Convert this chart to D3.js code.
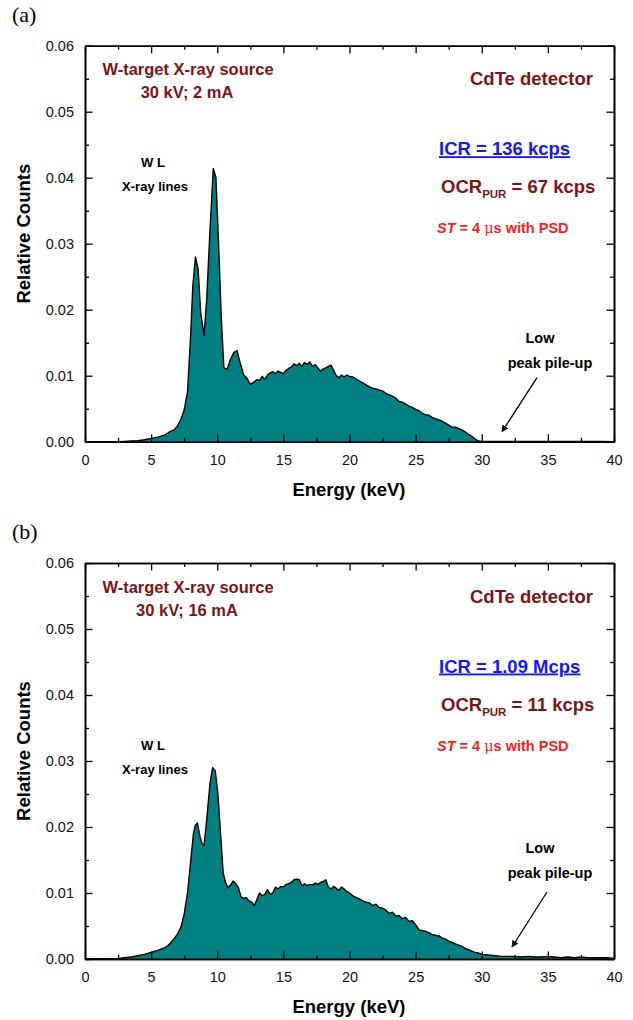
<!DOCTYPE html>
<html>
<head>
<meta charset="utf-8">
<script src="https://cdn.jsdelivr.net/npm/d3@7"></script>
<style>
  body { margin: 0; background: #fff; }
  svg text { font-family: "Liberation Sans", Arial, sans-serif; }
</style>
</head>
<body>
<div id="chart"></div>
<script>
/**** DATA *****/
// panel (a): 30 kV, 2 mA
const energyA = [0, 2.5, 3, 3.5, 4, 4.5, 5, 5.5, 6, 6.25, 6.5, 6.75, 7, 7.25, 7.5, 7.75, 8, 8.15, 8.35, 8.55, 8.75, 9, 9.2, 9.45, 9.7, 9.9, 10.1, 10.3, 10.5, 10.75, 11, 11.25, 11.5, 11.75, 12, 12.25, 12.5, 12.75, 13, 13.2, 13.4, 13.6, 13.8, 14, 14.2, 14.4, 14.6, 14.8, 15, 15.2, 15.4, 15.6, 15.8, 16, 16.2, 16.4, 16.6, 16.8, 17, 17.2, 17.4, 17.6, 17.8, 18, 18.2, 18.4, 18.6, 18.8, 19, 19.2, 19.4, 19.6, 19.8, 20, 20.25, 20.5, 20.75, 21, 21.25, 21.5, 21.75, 22, 22.25, 22.5, 22.75, 23, 23.25, 23.5, 23.75, 24, 24.25, 24.5, 24.75, 25, 25.25, 25.5, 25.75, 26, 26.25, 26.5, 26.75, 27, 27.25, 27.5, 27.75, 28, 28.25, 28.5, 28.75, 29, 29.25, 29.5, 29.75, 30, 31, 32, 33, 34, 35, 36, 37, 38, 39, 40];
const countsA = [0, 0, 0.00005, 0.0001, 0.00015, 0.0003, 0.0005, 0.0007, 0.001, 0.0013, 0.0016, 0.0018, 0.0024, 0.0034, 0.0048, 0.0075, 0.0165, 0.0235, 0.028, 0.0262, 0.0195, 0.0161, 0.0215, 0.032, 0.0414, 0.04, 0.03, 0.019, 0.0112, 0.011, 0.0125, 0.0135, 0.0138, 0.0118, 0.0101, 0.0096, 0.0087, 0.009, 0.0094, 0.0093, 0.0099, 0.0094, 0.0101, 0.0104, 0.0106, 0.0103, 0.0107, 0.0105, 0.0103, 0.0108, 0.0111, 0.0113, 0.0118, 0.0115, 0.0119, 0.0114, 0.012, 0.0117, 0.0121, 0.0114, 0.0117, 0.0112, 0.0107, 0.011, 0.0112, 0.0114, 0.0116, 0.0108, 0.01, 0.0097, 0.0101, 0.0098, 0.0101, 0.0099, 0.0098, 0.0095, 0.0092, 0.0089, 0.0086, 0.0083, 0.0081, 0.008, 0.0078, 0.0077, 0.0073, 0.0071, 0.0069, 0.0066, 0.0061, 0.006, 0.0057, 0.0054, 0.0052, 0.0049, 0.0047, 0.0043, 0.0041, 0.004, 0.0037, 0.0035, 0.0033, 0.0031, 0.0028, 0.0025, 0.0022, 0.0022, 0.002, 0.0018, 0.0015, 0.0011, 0.0008, 0.0004, 0.0001, 0.00003, 0.00003, 0.00005, 0.00002, 0.00004, 0.00003, 0.00002, 0.00003, 0.00002, 0.00002, 0.00001];

// panel (b): 30 kV, 16 mA
const energyB = [0, 2.5, 3, 3.5, 4, 4.5, 5, 5.5, 6, 6.25, 6.5, 6.75, 7, 7.25, 7.5, 7.75, 8, 8.2, 8.35, 8.5, 8.7, 8.85, 9, 9.2, 9.45, 9.65, 9.85, 10.05, 10.25, 10.45, 10.6, 10.8, 11, 11.2, 11.4, 11.6, 11.8, 12, 12.2, 12.4, 12.6, 12.8, 13, 13.2, 13.4, 13.6, 13.8, 14, 14.2, 14.4, 14.6, 14.8, 15, 15.2, 15.4, 15.6, 15.8, 16, 16.2, 16.4, 16.6, 16.8, 17, 17.2, 17.4, 17.6, 17.8, 18, 18.2, 18.4, 18.6, 18.8, 19, 19.2, 19.4, 19.6, 19.8, 20, 20.25, 20.5, 20.75, 21, 21.25, 21.5, 21.75, 22, 22.25, 22.5, 22.75, 23, 23.25, 23.5, 23.75, 24, 24.25, 24.5, 24.75, 25, 25.25, 25.5, 25.75, 26, 26.25, 26.5, 26.75, 27, 27.25, 27.5, 27.75, 28, 28.25, 28.5, 28.75, 29, 29.25, 29.5, 29.75, 30, 30.5, 31, 31.5, 32, 32.5, 33, 33.5, 34, 34.5, 35, 35.5, 36, 36.5, 37, 37.5, 38, 38.5, 39, 39.5, 40];
const countsB = [0, 0.0001, 0.0002, 0.0003, 0.0005, 0.0007, 0.001, 0.0013, 0.0017, 0.002, 0.0025, 0.0031, 0.0038, 0.0048, 0.0068, 0.01, 0.015, 0.019, 0.0203, 0.0206, 0.0185, 0.0175, 0.0172, 0.021, 0.0266, 0.029, 0.0285, 0.025, 0.019, 0.013, 0.0118, 0.0108, 0.0112, 0.0118, 0.0114, 0.0108, 0.0094, 0.0092, 0.0093, 0.0088, 0.0086, 0.0081, 0.009, 0.01, 0.0096, 0.0098, 0.0105, 0.0098, 0.01, 0.0109, 0.0106, 0.011, 0.0109, 0.0113, 0.0114, 0.0116, 0.012, 0.0121, 0.012, 0.0111, 0.0114, 0.0111, 0.0113, 0.0112, 0.0115, 0.0113, 0.0116, 0.0117, 0.012, 0.0109, 0.0106, 0.011, 0.0107, 0.0104, 0.0109, 0.0106, 0.0102, 0.01, 0.0096, 0.0093, 0.0091, 0.0088, 0.0086, 0.0085, 0.0081, 0.0083, 0.0078, 0.0077, 0.0074, 0.0069, 0.0071, 0.0065, 0.0066, 0.0061, 0.0063, 0.0057, 0.0058, 0.0052, 0.0044, 0.0043, 0.0042, 0.004, 0.0037, 0.0036, 0.0035, 0.0032, 0.003, 0.0027, 0.0025, 0.0023, 0.0021, 0.0019, 0.0016, 0.0014, 0.0012, 0.001, 0.0009, 0.0007, 0.0006, 0.0005, 0.0004, 0.0004, 0.0004, 0.0003, 0.0004, 0.0003, 0.0003, 0.0004, 0.0003, 0.0002, 0.0003, 0.0002, 0.0003, 0.0002, 0.0002, 0.0002, 0.0002, 0.0001];

const xMajor = [0, 5, 10, 15, 20, 25, 30, 35, 40];
const xMinor = [2.5, 7.5, 12.5, 17.5, 22.5, 27.5, 32.5, 37.5];
const yMajor = [0, 0.01, 0.02, 0.03, 0.04, 0.05, 0.06];
const yMinor = [0.005, 0.015, 0.025, 0.035, 0.045, 0.055];

const panels = [
	{ tag: '(a)', top: 45.7, energy: energyA, counts: countsA,
	  current: '30 kV; 2 mA', icr: 'ICR = 136 kcps', ocr: ' = 67 kcps',
	  wl: 121.5, low: 297.5, arrow: [[452, 332], [417, 386]] },
	{ tag: '(b)', top: 563, energy: energyB, counts: countsB,
	  current: '30 kV; 16 mA', icr: 'ICR = 1.09 Mcps', ocr: ' = 11 kcps',
	  wl: 187, low: 290, arrow: [[462, 329], [427, 384]] }
];

/**** LAYOUT *****/
const W = 633, H = 1020;
const left = 85, plotW = 529, plotH = 396;
const darkRed = '#7d1414';

const svg = d3.select('#chart').append('svg')
	.attr('width', W).attr('height', H)
	.attr('viewBox', [0, 0, W, H]);

svg.append('defs').append('marker').attr('id', 'arrow')
	.attr('viewBox', '0 0 10 10').attr('refX', 9).attr('refY', 5)
	.attr('markerWidth', 7).attr('markerHeight', 7)
	.attr('markerUnits', 'userSpaceOnUse')
	.attr('orient', 'auto')
	.append('path').attr('d', 'M0,0L10,5L0,10z').attr('fill', 'black');

const x = d3.scaleLinear().domain([0, 40]).range([0, plotW]);
const y = d3.scaleLinear().domain([0, 0.06]).range([plotH, 0]);

function drawPanel(p) {
	const g = svg.append('g').attr('transform', `translate(${left},${p.top})`);
	const pts = p.energy.map((e, i) => [e, p.counts[i]]);

	g.append('path').datum(pts)
		.attr('fill', '#008080')
		.attr('d', d3.area().x(d => x(d[0])).y0(y(0)).y1(d => y(d[1])));
	g.append('path').datum(pts)
		.attr('fill', 'none').attr('stroke', 'black').attr('stroke-width', 1.4)
		.attr('stroke-linejoin', 'round')
		.attr('d', d3.line().x(d => x(d[0])).y(d => y(d[1])));

	// axes, ticks pointing inward on all four sides
	const axes = [
		[d3.axisBottom(x).tickValues(xMajor).tickSize(-7.5).tickPadding(13).tickFormat(d3.format('d')), `0,${plotH}`],
		[d3.axisBottom(x).tickValues(xMinor).tickSize(-4).tickFormat(''), `0,${plotH}`],
		[d3.axisTop(x).tickValues(xMajor).tickSize(-7.5).tickFormat(''), '0,0'],
		[d3.axisTop(x).tickValues(xMinor).tickSize(-4).tickFormat(''), '0,0'],
		[d3.axisLeft(y).tickValues(yMajor).tickSize(-7.5).tickPadding(11).tickFormat(d3.format('.2f')), '0,0'],
		[d3.axisLeft(y).tickValues(yMinor).tickSize(-4).tickFormat(''), '0,0'],
		[d3.axisRight(y).tickValues(yMajor).tickSize(-7.5).tickFormat(''), `${plotW},0`],
		[d3.axisRight(y).tickValues(yMinor).tickSize(-4).tickFormat(''), `${plotW},0`]
	];
	axes.forEach(([ax, tr]) => {
		const a = g.append('g').attr('transform', `translate(${tr})`)
			.call(ax.tickSizeOuter(0));
		a.select('.domain').attr('stroke-width', 1.6);
		a.selectAll('.tick line').attr('stroke-width', 1.3);
		a.selectAll('.tick text')
			.attr('font-family', '"Liberation Sans", Arial, sans-serif')
			.attr('font-size', 14.5).attr('fill', '#111');
	});

	// axis titles
	g.append('text').text('Energy (keV)')
		.attr('x', plotW / 2 - 0.5).attr('y', plotH + 54)
		.attr('text-anchor', 'middle').attr('font-weight', 'bold').attr('font-size', 18.5);
	g.append('text').text('Relative Counts')
		.attr('transform', `translate(${30 - left},${plotH / 2 - 10}) rotate(-90)`)
		.attr('text-anchor', 'middle').attr('font-weight', 'bold').attr('font-size', 18.5);

	// panel tag
	svg.append('text').text(p.tag)
		.attr('x', 12).attr('y', p.top - 24)
		.style('font-family', '"Liberation Serif", "Times New Roman", serif')
		.attr('font-size', 22);

	// source annotation
	g.append('text').text('W-target X-ray source')
		.attr('x', 103).attr('y', 29.5).attr('text-anchor', 'middle')
		.attr('font-weight', 'bold').attr('font-size', 16.5).attr('fill', darkRed);
	g.append('text').text(p.current)
		.attr('x', 102).attr('y', 52.5).attr('text-anchor', 'middle')
		.attr('font-weight', 'bold').attr('font-size', 16.5).attr('fill', darkRed);

	// detector annotation
	g.append('text').text('CdTe detector')
		.attr('x', 508).attr('y', 39.5).attr('text-anchor', 'end')
		.attr('font-weight', 'bold').attr('font-size', 18.5).attr('fill', darkRed);
	g.append('text').text(p.icr)
		.attr('x', 354).attr('y', 109.5)
		.attr('font-weight', 'bold').attr('font-size', 18.5).attr('fill', '#1515ff')
		.attr('text-decoration', 'underline');
	const ocr = g.append('text').attr('x', 356).attr('y', 147.5)
		.attr('font-weight', 'bold').attr('font-size', 18.5).attr('fill', darkRed);
	ocr.append('tspan').text('OCR');
	ocr.append('tspan').text('PUR').attr('font-size', 11.5).attr('dy', 5);
	ocr.append('tspan').text(p.ocr).attr('dy', -5);
	const st = g.append('text').attr('x', 352).attr('y', 187.5)
		.attr('font-weight', 'bold').attr('font-size', 14.5).attr('fill', '#ff1a1a');
	st.append('tspan').text('ST').attr('font-style', 'italic');
	st.append('tspan').text(' = 4 ');
	st.append('tspan').text('\u03bc').attr('font-weight', 'normal')
		.style('font-family', '"DejaVu Serif", serif');
	st.append('tspan').text('s with PSD');

	// W L lines label
	g.append('text').text('W L')
		.attr('x', 68).attr('y', p.wl)
		.attr('text-anchor', 'middle').attr('font-weight', 'bold').attr('font-size', 13);
	g.append('text').text('X-ray lines')
		.attr('x', 70).attr('y', p.wl + 23.5)
		.attr('text-anchor', 'middle').attr('font-weight', 'bold').attr('font-size', 13);

	// pile-up annotation
	g.append('text').text('Low')
		.attr('x', 455).attr('y', p.low)
		.attr('text-anchor', 'middle').attr('font-weight', 'bold').attr('font-size', 14.5);
	g.append('text').text('peak pile-up')
		.attr('x', 465).attr('y', p.low + 25)
		.attr('text-anchor', 'middle').attr('font-weight', 'bold').attr('font-size', 14.5);
	g.append('line')
		.attr('x1', p.arrow[0][0]).attr('y1', p.arrow[0][1])
		.attr('x2', p.arrow[1][0]).attr('y2', p.arrow[1][1])
		.attr('stroke', 'black').attr('stroke-width', 1.3)
		.attr('marker-end', 'url(#arrow)');
}

panels.forEach(drawPanel);
</script>
</body>
</html>
